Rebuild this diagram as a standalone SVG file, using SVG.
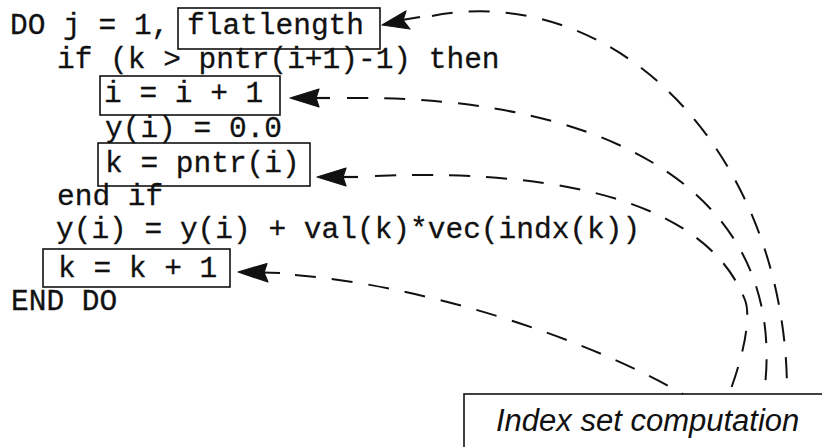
<svg xmlns="http://www.w3.org/2000/svg" width="822" height="447" viewBox="0 0 822 447">
<style>
.code{font-family:"Liberation Mono","Courier New",monospace;font-size:29.5px;fill:#111;stroke:#111;stroke-width:0.3;white-space:pre}
.box{fill:none;stroke:#111;stroke-width:1.6}
.label{font-family:"Liberation Sans",Arial,sans-serif;font-style:italic;font-size:31px;fill:#111}
.dash{fill:none;stroke:#111;stroke-width:2;stroke-dasharray:21 16}
.stub{fill:none;stroke:#111;stroke-width:2.2}
.head{fill:#111;stroke:#111;stroke-width:1.2;stroke-linejoin:round}
</style>
<rect width="822" height="447" fill="#fff"/>
<g id="code">
<text class="code" x="10" y="34" xml:space="preserve">DO j = 1,</text>
<text class="code" x="57" y="68" xml:space="preserve">if (k &gt; pntr(i+1)-1) then</text>
<text class="code" x="105" y="137" xml:space="preserve">y(i) = 0.0</text>
<text class="code" x="57" y="205" xml:space="preserve">end if</text>
<text class="code" x="56" y="238" xml:space="preserve">y(i) = y(i) + val(k)*vec(indx(k))</text>
<text class="code" x="11" y="310" xml:space="preserve">END DO</text>
</g>
<g id="node-flatlength">
<rect class="box" x="178" y="8" width="202" height="41"/>
<text class="code" x="187" y="34">flatlength</text>
</g>
<g id="node-inc-i">
<rect class="box" x="100" y="76" width="180" height="39"/>
<text class="code" x="104" y="102" xml:space="preserve">i = i + 1</text>
</g>
<g id="node-k-pntr">
<rect class="box" x="98" y="143" width="212" height="43"/>
<text class="code" x="105" y="172" xml:space="preserve">k = pntr(i)</text>
</g>
<g id="node-inc-k">
<rect class="box" x="43" y="249" width="187" height="38"/>
<text class="code" x="58" y="277" xml:space="preserve">k = k + 1</text>
</g>
<g id="node-index">
<rect class="box" x="464" y="394" width="400" height="100"/>
<text class="label" x="496" y="431">Index set computation</text>
</g>
<g id="connectors">
<polygon class="head" points="382,25 406,11 403,20 410,29"/>
<path class="stub" d="M402,20 L420,17"/>
<path class="dash" d="M432,16 A307,380 0 0 1 787,394"/>
<polygon class="head" points="290,98 319,89 316,98 319,107"/>
<path class="stub" d="M314,98 L330,98"/>
<path class="dash" d="M347,98 C620,95 790,200 764,394"/>
<polygon class="head" points="317,177 346,168 343,177 346,186"/>
<path class="stub" d="M341,177 L358,177"/>
<path class="dash" d="M375,176 C580,168 710,210 745,300 C752,318 742,360 729,394"/>
<polygon class="head" points="238,272 267,263.5 264,272.5 268,282"/>
<path class="stub" d="M263,272.5 L280,273"/>
<path class="dash" d="M295,275 C420,285 580,335 683,394"/>
</g>
</svg>
